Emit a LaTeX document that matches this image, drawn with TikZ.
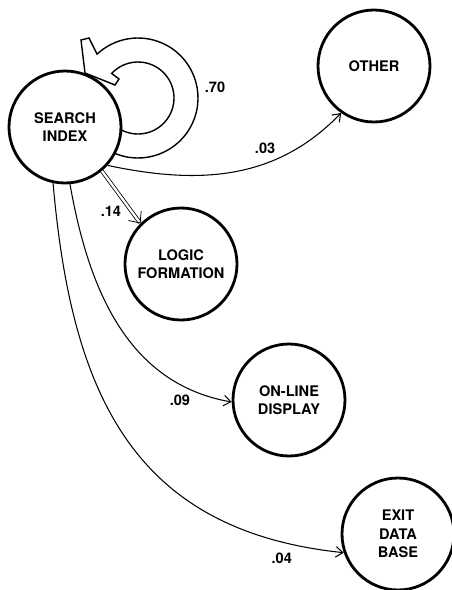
\documentclass[tikz,border=0pt]{standalone}
\usepackage{fontspec}
\setmainfont{TeX Gyre Heros}
\usetikzlibrary{arrows.meta, calc}

\begin{document}
\begin{tikzpicture}[auto,
		state/.style={draw, circle, line width=1.6pt, minimum size=2.24cm, inner sep=0pt, align=center, font=\fontsize{8.3}{10.5}\selectfont\bfseries},
		flow/.style={line width=0.6pt, -{Straight Barb[length=4pt, width=6pt]}},
		prob/.style={font=\fontsize{8.3}{10}\selectfont\bfseries, inner sep=2pt}]
		\useasboundingbox (0, 0) rectangle (9.04, -11.8);
		\node[state] (search) at (1.30, -2.54) {SEARCH\\INDEX};
		\node[state] (other) at (7.48, -1.32) {OTHER};
		\node[state] (logic) at (3.62, -5.28) {LOGIC\\FORMATION};
		\node[state] (online) at (5.78, -8.00) {ON-LINE\\DISPLAY};
		\node[state] (exit) at (7.96, -10.68) {EXIT\\DATA\\BASE};
		% hollow loop back into search index
		\coordinate (loopc) at ($(search) + (1.46, 0.58)$);
		\draw[line width=0.8pt] ($(loopc) + (-114:1.2cm)$) arc[start angle=-114, end angle=133, radius=1.2cm]
			-- ($(search) + (0.48, 1.78)$) -- ($(search) + (0.32, 1.74)$) -- ($(search) + (0.40, 1.08)$)
			-- ($(search) + (1.00, 0.84)$) -- ($(search) + (1.08, 0.96)$)
			-- ($(loopc) + (137:0.72cm)$) arc[start angle=137, end angle=-120, radius=0.72cm];
		\node[prob] (p70) at (4.30, -1.74) {.70};
		\draw[line width=0.45pt, double, double distance=1.3pt, -{Straight Barb[length=5pt, width=9pt]}] (search.-50) -- node[prob, pos=0.6, swap] {.14} (logic.135);
		\draw[flow] (search.-42) to[out=-12, in=226] node[prob, pos=0.7] {.03} (other.235);
		\draw[flow] (search.-85) to[out=-80, in=170] node[prob, pos=0.87, swap] {.09} (online.182);
		\draw[flow] (search.-102) to[out=-85, in=174, looseness=1.15] node[prob, pos=0.92, swap, yshift=-2pt] {.04} (exit.199);
	\end{tikzpicture}
\end{document}
